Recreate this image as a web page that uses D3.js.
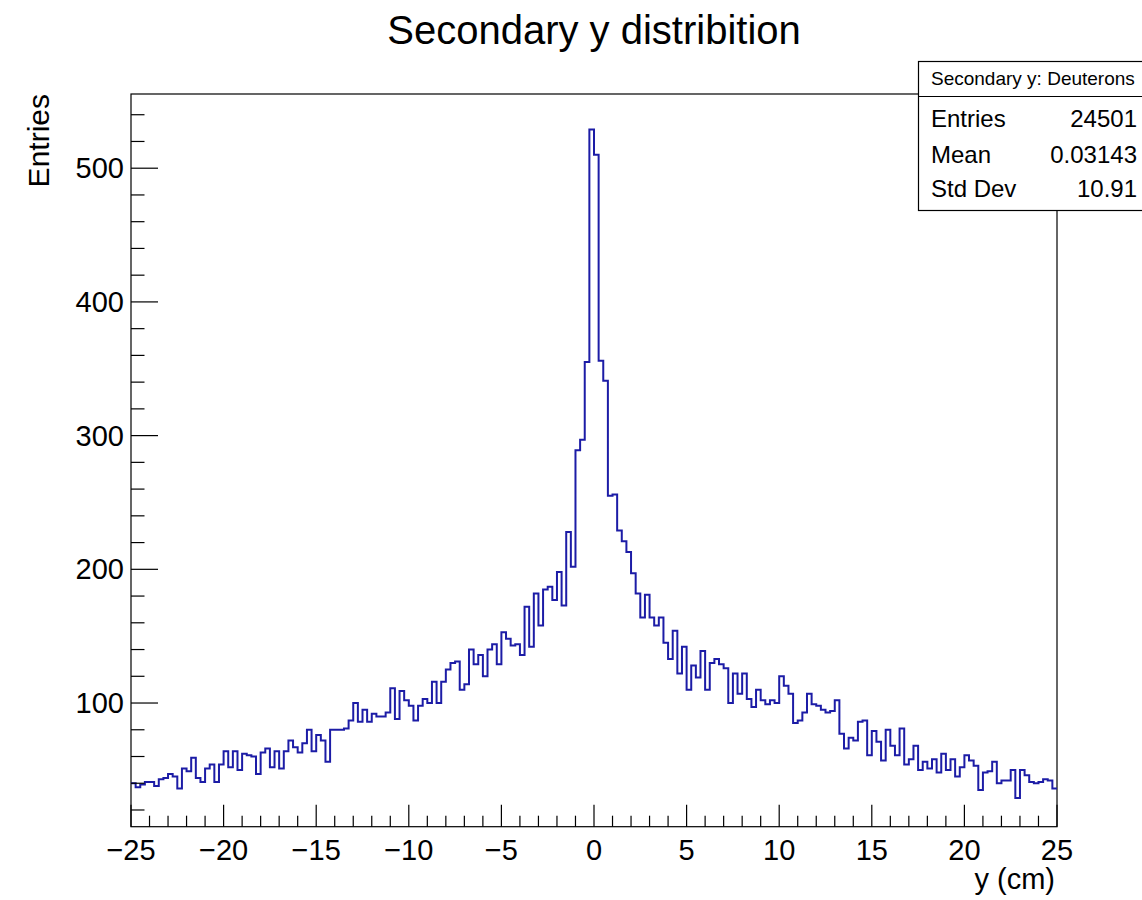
<!DOCTYPE html>
<html>
<head>
<meta charset="utf-8">
<script src="https://cdn.jsdelivr.net/npm/d3@7"></script>
<style>
  html, body { margin: 0; padding: 0; background: #fff; overflow: hidden; }
  svg { display: block; font-family: "Liberation Sans", Arial, Helvetica, sans-serif; }
</style>
</head>
<body>
<svg id="chart" width="1142" height="900"></svg>
<script>
// Histogram binning: 200 bins of 0.25 cm between -25 and 25 cm
const binLow = -25;
const binHigh = 25;
const binCounts = [
  40, 37, 39, 41, 41, 38, 43, 44, 47, 45,
  36, 51, 49, 59, 44, 41, 51, 54, 41, 54,
  64, 52, 64, 50, 62, 61, 60, 47, 63, 66,
  52, 64, 51, 64, 72, 67, 63, 70, 80, 64,
  76, 72, 56, 80, 80, 80, 81, 87, 100, 86,
  95, 86, 92, 90, 90, 93, 111, 88, 109, 102,
  98, 87, 98, 103, 100, 116, 100, 116, 125, 130,
  131, 110, 114, 140, 129, 136, 120, 140, 144, 129,
  153, 148, 143, 144, 136, 172, 142, 182, 158, 185,
  187, 177, 198, 173, 228, 202, 289, 297, 355, 529,
  510, 356, 341, 255, 256, 229, 221, 213, 197, 182,
  164, 181, 164, 158, 164, 145, 133, 154, 122, 142,
  110, 128, 119, 139, 110, 130, 133, 129, 126, 100,
  122, 107, 122, 103, 97, 110, 102, 99, 102, 100,
  120, 113, 107, 85, 87, 93, 107, 99, 98, 95,
  93, 94, 102, 77, 66, 74, 72, 86, 87, 61,
  79, 71, 57, 80, 68, 61, 81, 54, 58, 68,
  50, 56, 51, 58, 48, 62, 50, 58, 45, 52,
  61, 57, 53, 35, 48, 49, 56, 40, 42, 42,
  50, 29, 50, 46, 41, 40, 41, 43, 42, 36
];

// Axis ticks and texts
const xMajorTicks = [-25, -20, -15, -10, -5, 0, 5, 10, 15, 20, 25];
const yMajorTicks = [100, 200, 300, 400, 500];
const yRange = [7.5, 555.5];
const titleText = "Secondary y distribition";
const xTitle = "y (cm)";
const yTitle = "Entries";

// Statistics box contents
const statsHeader = "Secondary y: Deuterons";
const statsLabels = ["Entries", "Mean", "Std Dev"];
const statsValues = ["24501", "0.03143", "10.91"];

const svg = d3.select("#chart");
const frame = { left: 131, right: 1057, top: 94, bottom: 826.7 };
const lineColor = "#1c1ca6";

const x = d3.scaleLinear().domain([binLow, binHigh]).range([frame.left, frame.right]);
const y = d3.scaleLinear().domain(yRange).range([frame.bottom, frame.top]);

const nBins = binCounts.length;
const binWidth = (binHigh - binLow) / nBins;

// Frame box
svg.append("rect")
  .attr("x", frame.left).attr("y", frame.top)
  .attr("width", frame.right - frame.left).attr("height", frame.bottom - frame.top)
  .attr("fill", "none").attr("stroke", "#000").attr("stroke-width", 1.2);

// Histogram outline as steps
const pts = binCounts.map((c, i) => [binLow + i * binWidth, c]);
pts.push([binHigh, binCounts[nBins - 1]]);
const step = d3.line()
  .x(d => x(d[0]))
  .y(d => y(d[1]))
  .curve(d3.curveStepAfter);
svg.append("path")
  .datum(pts)
  .attr("d", step)
  .attr("fill", "none")
  .attr("stroke", lineColor)
  .attr("stroke-width", 2)
  .attr("stroke-linejoin", "miter");

// X axis ticks: majors every 5, minors every 1
const xMinor = d3.range(binLow, binHigh + 0.001, 1);
const xAxisG = svg.append("g");
xAxisG.selectAll("line").data(xMinor).join("line")
  .attr("x1", d => x(d)).attr("x2", d => x(d))
  .attr("y1", frame.bottom).attr("y2", d => frame.bottom - (d % 5 === 0 ? 22 : 11))
  .attr("stroke", "#000").attr("stroke-width", 1.2);
xAxisG.selectAll("text").data(xMajorTicks).join("text")
  .attr("x", d => x(d)).attr("y", 860)
  .attr("text-anchor", "middle")
  .attr("font-size", 29)
  .text(d => d < 0 ? "\u2212" + Math.abs(d) : String(d));

// Y axis ticks: majors every 100, minors every 20
const yMinor = d3.range(20, yRange[1], 20);
const yAxisG = svg.append("g");
yAxisG.selectAll("line").data(yMinor).join("line")
  .attr("x1", frame.left).attr("x2", d => frame.left + (d % 100 === 0 ? 27 : 13.5))
  .attr("y1", d => y(d)).attr("y2", d => y(d))
  .attr("stroke", "#000").attr("stroke-width", 1.2);
yAxisG.selectAll("text").data(yMajorTicks).join("text")
  .attr("x", frame.left - 7).attr("y", d => y(d) + 10)
  .attr("text-anchor", "end")
  .attr("font-size", 29)
  .text(d => d);

// Titles
svg.append("text")
  .attr("x", 594).attr("y", 44)
  .attr("text-anchor", "middle")
  .attr("font-size", 40)
  .text(titleText);
svg.append("text")
  .attr("x", frame.right - 2).attr("y", 889)
  .attr("text-anchor", "end")
  .attr("font-size", 29)
  .text(xTitle);
svg.append("text")
  .attr("transform", `translate(49, ${frame.top}) rotate(-90)`)
  .attr("text-anchor", "end")
  .attr("font-size", 30)
  .text(yTitle);

// Statistics box (runs past the right edge of the canvas)
const box = { left: 918.5, top: 61.5, right: 1148, bottom: 210.5, divider: 96.5 };
const statsG = svg.append("g");
statsG.append("rect")
  .attr("x", box.left).attr("y", box.top)
  .attr("width", box.right - box.left).attr("height", box.bottom - box.top)
  .attr("fill", "#fff").attr("stroke", "#000").attr("stroke-width", 1.2);
statsG.append("line")
  .attr("x1", box.left).attr("x2", box.right)
  .attr("y1", box.divider).attr("y2", box.divider)
  .attr("stroke", "#000").attr("stroke-width", 1.2);
statsG.append("text")
  .attr("x", 931).attr("y", 85)
  .attr("font-size", 19)
  .text(statsHeader);
const rowBase = [127, 163, 197];
statsLabels.forEach((lab, i) => {
  statsG.append("text").attr("x", 931).attr("y", rowBase[i])
    .attr("font-size", 24).text(lab);
  statsG.append("text").attr("x", 1137).attr("y", rowBase[i])
    .attr("text-anchor", "end").attr("font-size", 24).text(statsValues[i]);
});
</script>
</body>
</html>
